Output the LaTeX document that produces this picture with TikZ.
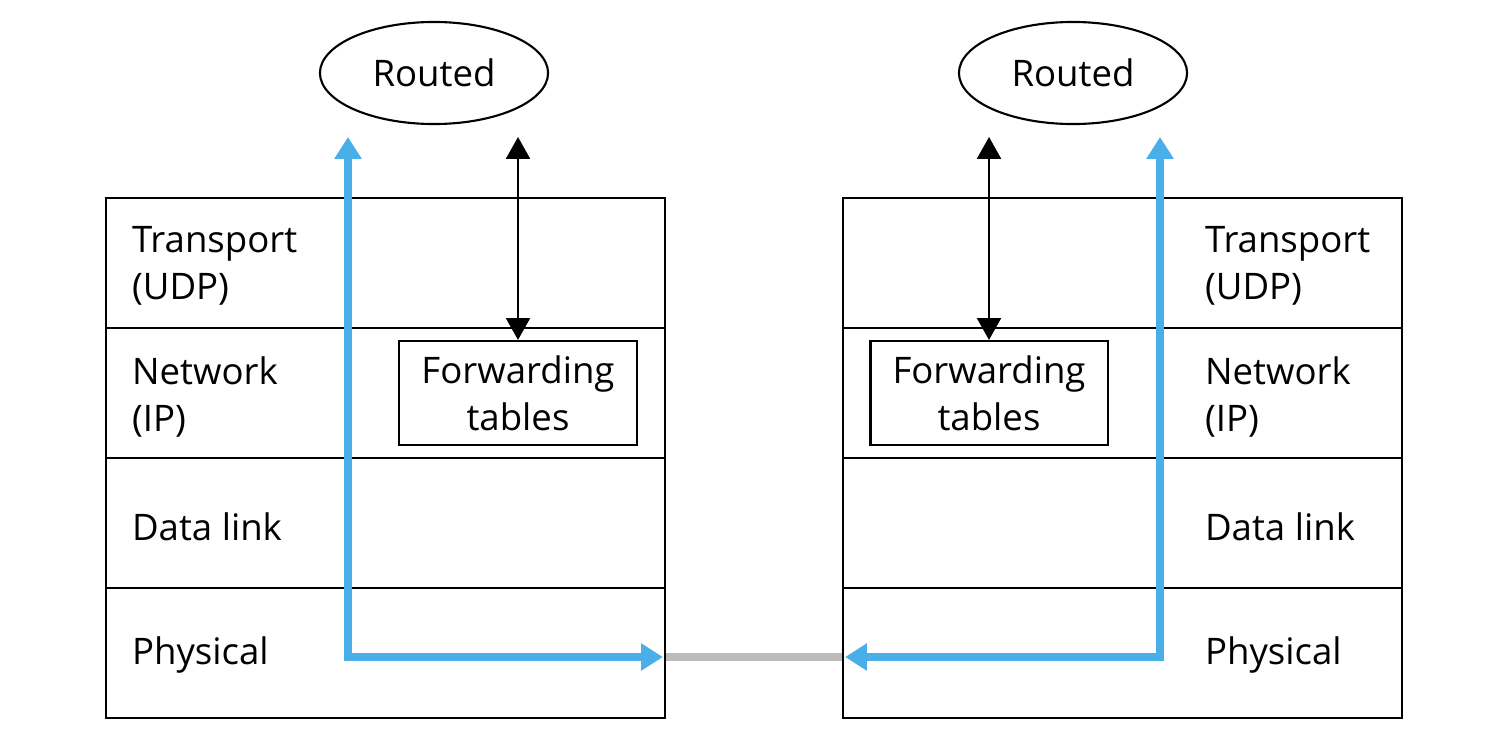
\documentclass[tikz,border=0pt]{standalone}
\usepackage{fontspec}
\setmainfont{Open Sans}
\usetikzlibrary{shapes.geometric,arrows.meta}
\definecolor{flowblue}{RGB}{74,174,232}
\definecolor{linkgray}{RGB}{187,187,187}

\begin{document}
\begin{tikzpicture}[x=0.01cm,y=-0.01cm,line width=0.6pt,
  txt/.style={font=\fontsize{10.4}{13.4}\selectfont},
  layer/.style={txt,anchor=west,align=left,inner sep=0pt},
  routed/.style={txt,draw,ellipse,minimum width=2.28cm,minimum height=1.02cm},
  fwd/.style={txt,draw,align=center,minimum width=2.37cm,minimum height=1.04cm,inner sep=0pt},
  ctrl/.style={{Triangle[width=6.8pt,length=6.2pt]}-{Triangle[width=6.8pt,length=6.2pt]}},
  flow/.style={flowblue,line width=2.3pt,line join=miter,
    {Triangle[width=7.4pt,length=6.2pt]}-{Triangle[width=7.4pt,length=6.2pt]}},
  link/.style={linkgray,line width=2.3pt}]
  \useasboundingbox (0,0) rectangle (1492,742);
  % ports and link
  \coordinate (portL) at (665,657);
  \coordinate (portR) at (843,657);
  \draw[link] (portL) -- (portR);
  % the two stacks
  \foreach \x in {106,843} {
    \draw (\x,198) rectangle (\x+559,718);
    \foreach \y in {328,458,588}
      \draw (\x,\y) -- (\x+559,\y);
  }
  % left router
  \node[layer] (transL) at (131,266) {Transport\\(UDP)};
  \node[layer] (netL) at (131,397) {Network\\(IP)};
  \node[layer] (linkL) at (131,527) {Data link};
  \node[layer] (physL) at (131,655) {Physical};
  \node[routed] (routedL) at (434,73) {Routed};
  \node[fwd] (fwdL) at (518,393) {Forwarding\\tables};
  \coordinate (ctrlL) at (518,137);
  \coordinate (upL) at (348,137);
  \draw[ctrl] (ctrlL) -- (fwdL.north);
  \draw[flow] (upL) |- ([xshift=-0.6pt]portL);
  % right router
  \node[layer] (transR) at (1204,266) {Transport\\(UDP)};
  \node[layer] (netR) at (1204,397) {Network\\(IP)};
  \node[layer] (linkR) at (1204,527) {Data link};
  \node[layer] (physR) at (1204,655) {Physical};
  \node[routed] (routedR) at (1073,73) {Routed};
  \node[fwd] (fwdR) at (989,393) {Forwarding\\tables};
  \coordinate (ctrlR) at (989,137);
  \coordinate (upR) at (1160,137);
  \draw[ctrl] (ctrlR) -- (fwdR.north);
  \draw[flow] (upR) |- ([xshift=0.6pt]portR);
\end{tikzpicture}
\end{document}
